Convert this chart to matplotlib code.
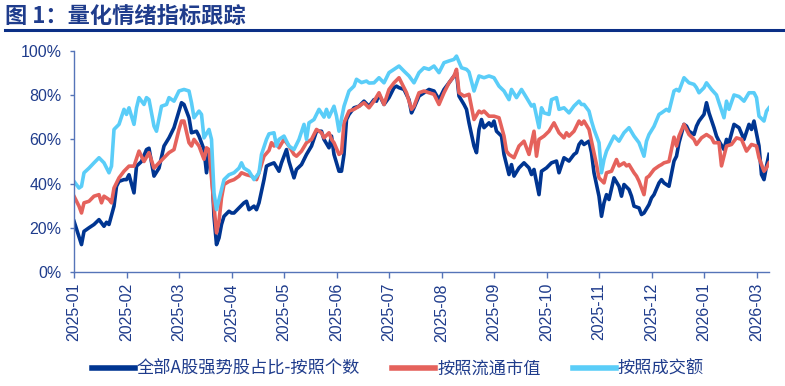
import numpy as np
import matplotlib
matplotlib.use("Agg")
import matplotlib.pyplot as plt
from matplotlib.lines import Line2D
from matplotlib.ticker import FuncFormatter

plt.rcParams['font.family'] = ['Liberation Sans', 'Noto Sans CJK SC', 'DejaVu Sans']

# trading-day index, share of strong stocks (%)
navy = [(0, 23), (2, 16), (3, 12.4), (4, 18.4), (6, 20), (8, 21.5), (10, 23.7), (12, 20.7), (13, 22.5), (14, 21.5),
        (16, 29.8), (17, 38.8), (18, 41), (20, 41.8), (21, 41.8), (22, 44), (24, 35.8), (25, 47.9), (27, 50), (29, 55.4),
        (30, 56), (32, 43.4), (34, 47), (36, 57), (38, 60.7), (40, 65.3), (42, 72.8), (43, 76.6), (44, 75.8), (46, 69.8),
        (47, 63), (49, 63.7), (50, 61.5), (52, 55.4), (53, 44.9), (54, 54), (55, 49.4), (56, 25.2), (57, 12.4), (58, 15.4),
        (59, 21.5), (60, 25.2), (62, 27.5), (63, 26.7), (64, 26.7), (66, 29), (68, 31.3), (69, 32), (70, 28.2), (72, 29.8),
        (73, 28.2), (74, 31.3), (76, 41.8), (77, 47.9), (78, 48.5), (80, 49.4), (82, 45.6), (83, 49.4), (85, 55.4), (86, 50),
        (88, 42.6), (89, 46.4), (91, 48.6), (93, 53.2), (95, 57), (97, 63.7), (99, 63.7), (100, 60), (102, 56.2), (103, 61.5),
        (104, 53.2), (106, 45.6), (107, 45.6), (108, 53.2), (109, 69), (110, 71.3), (112, 74.3), (114, 75), (116, 77.3), (118, 75),
        (120, 78), (121, 77.3), (122, 80.4), (124, 75.8), (126, 78.9), (128, 83.4), (129, 84.1), (130, 83.4), (132, 82.6), (134, 78),
        (135, 72), (136, 74.3), (138, 79.6), (140, 81.1), (142, 82.6), (144, 81.9), (146, 78), (148, 82.6), (150, 85.6), (152, 88.7),
        (153, 90.2), (154, 79.6), (156, 75.8), (157, 73.6), (158, 67.5), (160, 57), (161, 54), (162, 64.5), (163, 69), (164, 65.3),
        (166, 67.5), (167, 66), (168, 68.3), (169, 63.7), (171, 61.5), (172, 53.2), (174, 44.1), (175, 48.6), (176, 43.4), (178, 47.1),
        (180, 49.4), (182, 47.1), (183, 44.1), (184, 46.4), (186, 35), (187, 45.6), (189, 47.1), (191, 49.4), (193, 50.2), (194, 44.9),
        (196, 51.7), (198, 50.2), (200, 53.2), (201, 54), (202, 57.7), (203, 59.2), (204, 57.7), (206, 59.2), (207, 54), (208, 44.9),
        (210, 34.3), (211, 25.2), (212, 31.3), (213, 35), (214, 32.8), (216, 42.6), (218, 38.8), (219, 34.3), (220, 39.6), (222, 37.3),
        (223, 34.3), (224, 29.8), (226, 29), (227, 26), (228, 26.7), (230, 30.5), (231, 33.5), (232, 35), (234, 40.3), (235, 41.8),
        (236, 40.3), (238, 38.8), (240, 50.2), (241, 52.4), (242, 58.5), (244, 66.8), (245, 66), (246, 63.7), (248, 62.2), (249, 66),
        (250, 68.3), (252, 71.3), (253, 76.6), (254, 72), (256, 65.3), (257, 61.5), (258, 59.2), (260, 55.4), (261, 60), (262, 58.5),
        (264, 66.8), (266, 65.3), (268, 60), (270, 66.8), (271, 64.5), (272, 68.3), (274, 57), (275, 44.1), (276, 41.8), (277, 47.9),
        (278, 53.2)]

red = [(0, 34.3), (2, 29.8), (3, 26.7), (4, 31.3), (6, 32), (8, 34.3), (10, 35), (11, 31.3), (12, 34.3), (14, 32.8),
       (15, 31.3), (16, 38), (18, 42.6), (20, 45.6), (22, 47.9), (24, 47.9), (26, 54.7), (28, 50), (30, 54), (32, 47),
       (34, 49.4), (36, 51.7), (38, 54), (40, 55.4), (42, 64.5), (43, 68.3), (44, 68.3), (46, 58.5), (47, 57), (48, 60),
       (50, 57), (52, 51), (53, 56.2), (54, 55.4), (56, 29.8), (57, 17.7), (58, 23), (59, 33.5), (60, 39.6), (62, 41),
       (64, 41.8), (66, 43.4), (67, 44.9), (69, 44), (71, 43.4), (73, 41.8), (74, 44.9), (76, 52.4), (78, 55), (79, 58.5),
       (80, 57), (81, 59.2), (82, 56.2), (84, 60), (86, 57), (88, 53.2), (89, 52.4), (91, 54.7), (93, 58.5), (95, 60),
       (97, 64.5), (99, 63), (100, 60.7), (102, 63), (103, 60), (104, 58.5), (106, 53.2), (107, 54), (108, 67.5), (110, 72.8),
       (112, 73.6), (114, 75), (116, 76.6), (118, 74.3), (120, 77.3), (122, 81.1), (124, 75.8), (126, 82.6), (128, 85.6), (130, 87.9),
       (131, 85.6), (133, 81.1), (135, 73.6), (136, 75), (138, 81.1), (140, 81.9), (142, 81.1), (144, 80.4), (146, 75.8), (148, 81.1),
       (150, 85.6), (152, 88.7), (153, 91.7), (154, 81.1), (156, 79.6), (158, 80.4), (160, 69), (162, 72.8), (163, 72), (164, 72.8),
       (166, 70.5), (168, 70.5), (170, 69.8), (172, 61.5), (173, 54.7), (174, 53.2), (176, 51.7), (178, 57), (180, 59.2), (181, 56.2),
       (182, 53.2), (184, 63.7), (185, 52.4), (186, 60), (188, 61.5), (190, 63.7), (192, 67.5), (193, 65.3), (194, 63), (196, 60.7),
       (197, 63), (198, 61.5), (200, 63.7), (202, 68.3), (203, 66.8), (204, 68.3), (206, 64.5), (207, 59.2), (209, 48.6), (210, 42.6),
       (212, 40.3), (213, 44.9), (215, 45.6), (217, 50.9), (218, 48), (220, 49.4), (221, 48), (222, 48.6), (224, 44.9), (225, 43.4),
       (226, 41.1), (228, 35), (229, 42.6), (230, 43.4), (232, 46.4), (234, 48), (235, 48.6), (236, 49.4), (238, 50), (240, 61),
       (241, 57), (242, 61.5), (244, 66.8), (246, 62.2), (248, 60), (249, 57.7), (251, 60.7), (253, 62.2), (255, 60.7), (256, 58.5),
       (258, 58.5), (259, 48), (261, 57), (263, 57.7), (265, 60.7), (267, 60), (269, 54.7), (271, 57.7), (273, 57), (274, 51.7),
       (276, 45.6), (277, 47.1), (278, 49.4)]

cyan = [(0, 41), (2, 38), (3, 38.8), (4, 44.9), (6, 47), (8, 49.4), (10, 51.7), (12, 49.4), (14, 44.9), (15, 47.9),
        (16, 64.5), (18, 66.8), (20, 73.6), (21, 71.3), (22, 74.3), (24, 66.8), (25, 74.3), (26, 78.9), (28, 75.8), (29, 78.9),
        (30, 78), (32, 66), (33, 63.7), (35, 75), (37, 75.8), (38, 78.9), (40, 77.3), (42, 81.9), (44, 82.6), (46, 81.9),
        (47, 76.6), (48, 69.8), (50, 72.8), (51, 71.3), (52, 60.7), (54, 64.5), (55, 60), (56, 35.8), (57, 28.2), (58, 32.8),
        (60, 41.8), (62, 44), (64, 44.9), (66, 47), (67, 49.4), (68, 47), (70, 45.6), (72, 41.8), (74, 44.9), (75, 53.2),
        (77, 60), (78, 62.5), (80, 63), (81, 57), (82, 60), (84, 61.5), (86, 57), (88, 55.4), (90, 60), (92, 66.8),
        (93, 60), (94, 67.5), (96, 69), (98, 73.6), (100, 70.1), (101, 73.6), (102, 70.1), (104, 75), (105, 70.5), (106, 63.7),
        (108, 75), (110, 81.9), (112, 84.1), (113, 87.2), (115, 85.7), (117, 86.4), (118, 85.5), (120, 85.6), (122, 87.9), (124, 85.6),
        (126, 90.2), (128, 91.7), (130, 93.2), (132, 90.9), (134, 88.7), (136, 85.6), (138, 90.2), (140, 92.4), (142, 91.7), (144, 93.2),
        (146, 90.2), (148, 94.7), (150, 95.5), (152, 96.2), (153, 97.7), (155, 92.4), (157, 91.7), (158, 90.5), (160, 81.9), (162, 88.7),
        (164, 87.9), (166, 88.7), (168, 87.9), (170, 84.1), (172, 81.9), (174, 78), (175, 82.6), (177, 78.9), (179, 82.6), (181, 78.9),
        (183, 75.1), (184, 75.8), (186, 65.3), (187, 74.3), (188, 72), (190, 71.3), (191, 78), (193, 78.9), (194, 73.6), (196, 74.3),
        (198, 72), (200, 75.1), (202, 77.3), (203, 75.8), (204, 75.8), (206, 72.8), (207, 68.3), (208, 64.5), (210, 58.5), (211, 44.9),
        (212, 50.9), (213, 54.7), (214, 57), (216, 61.5), (218, 59.2), (220, 63), (222, 65.3), (224, 61.5), (226, 58.5), (228, 52.4),
        (229, 59.2), (230, 62.2), (232, 65.9), (234, 71.3), (235, 72), (237, 73.6), (238, 72.8), (240, 81.9), (241, 82.6), (242, 81.9),
        (244, 87.9), (246, 85.6), (248, 84.9), (249, 83.4), (250, 81.1), (252, 83.4), (253, 85.6), (255, 82.6), (257, 80.1), (258, 76.6),
        (260, 69.8), (261, 77.3), (262, 73.6), (264, 80.1), (266, 79.4), (268, 77.3), (270, 81.1), (272, 81.1), (273, 78.9), (274, 70.5),
        (276, 68.3), (277, 72.8), (278, 74.3)]

month_ticks = [0, 21, 42, 63, 84, 105, 126, 147, 168, 189, 210, 231, 252, 273]
month_labels = ['2025-01', '2025-02', '2025-03', '2025-04', '2025-05', '2025-06', '2025-07',
                '2025-08', '2025-09', '2025-10', '2025-11', '2025-12', '2026-01', '2026-03']
series_names = ['全部A股强势股占比-按照个数', '按照流通市值', '按照成交额']

C_NAVY = '#003591'
C_RED = '#E5625C'
C_CYAN = '#5ACDF8'
C_TEXT = '#1F3C8C'
C_AXIS = '#5574B8'

fig = plt.figure(figsize=(7.85, 3.86), dpi=100)
ax = fig.add_axes([74 / 785, 114 / 386, 695 / 785, 221 / 386])

for data, color, name in zip([navy, red, cyan], [C_NAVY, C_RED, C_CYAN], series_names):
    d = np.array(data)
    ax.plot(d[:, 0], d[:, 1], color=color, lw=2.6, label=name, solid_joinstyle='round')

ax.set_xlim(0, 278)
ax.set_ylim(0, 100)
ax.set_yticks(range(0, 101, 20))
ax.yaxis.set_major_formatter(FuncFormatter(lambda v, _: f'{v:.0f}%'))
ax.set_xticks(month_ticks)
ax.set_xticklabels(month_labels, rotation=90)

for s in ['top', 'right']:
    ax.spines[s].set_visible(False)
for s in ['left', 'bottom']:
    ax.spines[s].set_color(C_AXIS)
    ax.spines[s].set_linewidth(1.0)
ax.tick_params(axis='y', direction='out', length=3, width=1, color=C_AXIS, labelcolor=C_TEXT, labelsize=11.5, pad=6)
ax.tick_params(axis='x', direction='out', length=4, width=1, color=C_AXIS, labelcolor=C_TEXT, labelsize=11.5, pad=4)

# title with rule underneath
fig.text(5 / 785, 1 - 16 / 386, '图 1：量化情绪指标跟踪', fontsize=16, weight='bold', color=C_TEXT,
         va='center', ha='left', family=['Noto Sans CJK SC'])
fig.add_artist(Line2D([5 / 785, 1.0], [1 - 30 / 386] * 2, color='#0B2F86', lw=2.2))

handles = [Line2D([], [], color=c, lw=4) for c in [C_NAVY, C_RED, C_CYAN]]
leg = fig.legend(handles, series_names, loc='center', bbox_to_anchor=(398 / 785, 1 - 369 / 386), ncol=3,
                 frameon=False, handlelength=2.5, handletextpad=0.12, columnspacing=1.85,
                 prop={'family': ['Noto Sans CJK SC'], 'size': 12.4})
for t in leg.get_texts():
    t.set_color(C_TEXT)

fig.savefig('out.png', dpi=100)
